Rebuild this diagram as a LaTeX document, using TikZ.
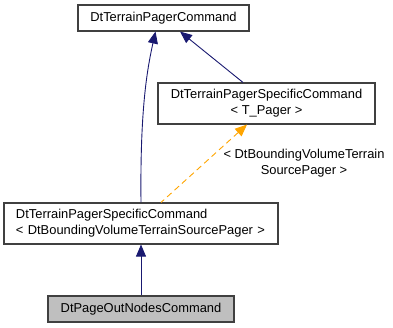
\documentclass[tikz,border=0pt]{standalone}
\usepackage{fontspec}
\setmainfont{Liberation Sans}
\usepackage{xcolor}
\definecolor{edgeNavy}{HTML}{191970}
\definecolor{tmplOrange}{HTML}{FFA500}
\definecolor{boxLine}{HTML}{404040}
\definecolor{boxGray}{HTML}{BFBFBF}
\usetikzlibrary{arrows.meta,positioning,calc}

\begin{document}
\begin{tikzpicture}[
  x=1pt, y=-1pt,
  font=\fontsize{12.9}{16}\selectfont,
  cls/.style={draw=boxLine,fill=white,line width=1.1pt,inner sep=0pt,
              align=center},
  inh/.style={{Triangle[length=12pt,width=10pt]}-,line width=0.9pt,edgeNavy},
  tmpl/.style={{Triangle[length=12pt,width=10pt]}-,line width=0.9pt,
               tmplOrange,dash pattern=on 6pt off 4pt}
]
\useasboundingbox (0,0) rectangle (393,328);
% classes
\node[cls, minimum width=171pt, minimum height=26pt] (base) at (163.5,18) {DtTerrainPagerCommand};
\node[cls, minimum width=217pt, minimum height=41pt] (tmplcls) at (266.5,103.5)
  {DtTerrainPagerSpecificCommand\\ {<} T\_Pager {>}};
\node[cls, minimum width=274pt, minimum height=41pt, align=left, text width=250pt] (inst) at (141,223.5)
  {DtTerrainPagerSpecificCommand\\ {<} DtBoundingVolumeTerrainSourcePager {>}};
\node[cls, fill=boxGray, minimum width=186pt, minimum height=26pt] (leaf) at (141,309) {DtPageOutNodesCommand};

% edges
\draw[inh] ($(base.south)+(-8,0)$) .. controls (147,70) and (140,110) .. (inst.north);
\draw[inh] ($(base.south)+(16.5,0)$) -- ($(tmplcls.north)+(-23.5,0)$);
\draw[tmpl] ($(tmplcls.south)+(-19.5,0)$) -- ($(inst.north)+(20,0)$);
\draw[inh] (inst.south) -- (leaf.north);
\node[align=center] (arglbl) at (304,163) {{<} DtBoundingVolumeTerrain\\ SourcePager {>}};
\end{tikzpicture}
\end{document}
